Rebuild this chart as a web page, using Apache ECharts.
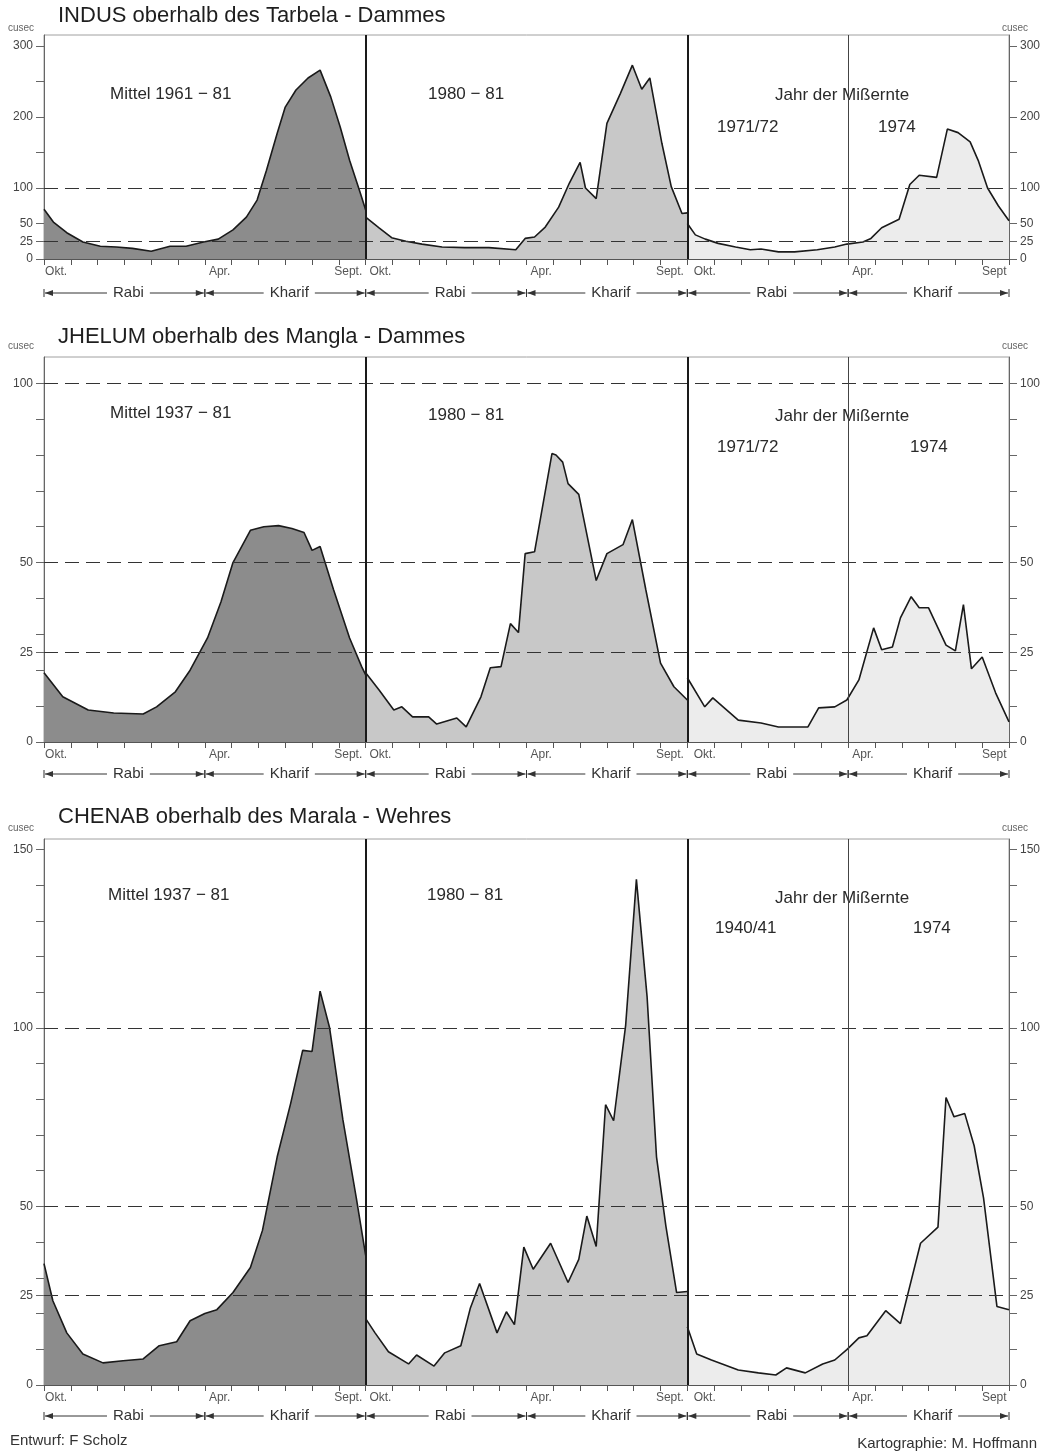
<!DOCTYPE html>
<html><head><meta charset="utf-8">
<script src="https://cdn.jsdelivr.net/npm/echarts@6/dist/echarts.min.js"></script>
<style>html,body{margin:0;padding:0;background:#fff}#c{width:1050px;height:1452px}</style>
</head><body><div id="c"></div>
<script>
// ---- data: [month since 1 Oct, cusec (x1000)] per water year ----
const indusMean = [[0,70],[0.35,52],[0.85,37],[1.45,24],[2.1,18],[2.7,17],[3.3,15],[4.0,11],[4.7,18],[5.3,18],[5.95,24],[6.5,28],[7.05,41],[7.55,59],[7.95,83],[8.3,125],[8.7,177],[9.0,214],[9.4,238],[9.85,255],[10.3,266],[10.7,228],[11.05,186],[11.4,139],[11.8,93],[12,69]];
const indus1980 = [[0,59],[0.5,44],[0.97,30],[1.5,25],[2.1,21],[2.85,17],[3.7,16],[4.6,16],[5.6,13],[5.95,29],[6.3,31],[6.7,45],[7.2,73],[7.6,107],[8.0,136],[8.2,100],[8.6,85],[9.0,191],[9.5,233],[9.95,273],[10.3,239],[10.6,255],[11.05,163],[11.4,102],[11.8,64],[12,65]];
const indusFail = [[0,50],[0.3,34],[0.67,28],[1.15,22],[1.8,17],[2.35,13],[2.75,14],[3.4,10],[4.0,10],[4.85,13],[5.5,17],[5.95,21],[6.55,24],[6.85,29],[7.25,44],[7.9,56],[8.3,105],[8.65,118],[9.3,115],[9.7,183],[10.1,178],[10.55,165],[10.85,139],[11.2,100],[11.6,75],[12,54]];

const jhelumMean = [[0,19.3],[0.7,12.6],[1.65,8.9],[2.6,8.1],[3.7,7.8],[4.2,9.8],[4.9,14],[5.45,20],[6.1,29],[6.6,39],[7.05,50],[7.7,59],[8.2,60],[8.75,60.3],[9.25,59.5],[9.7,58.4],[10.0,53.4],[10.3,54.5],[10.8,42.5],[11.4,29],[11.85,21],[12,18.7]];
const jhelum1980 = [[0,19.3],[0.5,14.5],[1.05,8.9],[1.35,9.8],[1.75,7],[2.35,7],[2.65,5],[3.4,6.7],[3.75,4.2],[4.3,12.6],[4.65,20.7],[5.05,21],[5.4,33],[5.7,30.5],[5.95,52.5],[6.3,53],[6.95,80.4],[7.1,80],[7.35,78],[7.55,72],[7.95,69],[8.6,45],[9.0,52.5],[9.6,55],[9.95,62],[10.45,42.5],[11.0,22],[11.5,15.4],[12,11.7]];
const jhelumFail = [[0,17.9],[0.65,9.8],[0.95,12.3],[1.9,6.1],[2.75,5.3],[3.4,4.2],[4.5,4.2],[4.9,9.5],[5.5,9.8],[5.95,11.7],[6.4,17.3],[6.95,31.8],[7.25,25.7],[7.65,26.5],[7.95,34.6],[8.35,40.5],[8.65,37.4],[9.0,37.4],[9.65,27],[10.0,25.4],[10.3,38.3],[10.6,20.4],[11.0,23.7],[11.5,13.7],[12,5.6]];

const chenabMean = [[0,34],[0.33,23.6],[0.85,14.6],[1.45,8.7],[2.2,6.2],[2.95,6.8],[3.7,7.3],[4.3,11],[4.95,12.1],[5.45,18],[6.0,20],[6.45,21.1],[7.05,25.9],[7.7,32.9],[8.15,43.3],[8.7,63.9],[9.2,78.8],[9.65,93.7],[10.0,93.4],[10.3,110.3],[10.65,100.2],[11.15,74.3],[11.65,52.4],[12,36.3]];
const chenab1980 = [[0,18.6],[0.35,14.6],[0.85,9.3],[1.6,5.9],[1.9,8.4],[2.55,5.3],[2.95,9],[3.55,11],[3.9,21.4],[4.25,28.4],[4.9,14.6],[5.25,20.5],[5.55,16.9],[5.9,38.6],[6.25,32.4],[6.9,39.7],[7.55,28.7],[7.95,35.2],[8.25,47.3],[8.6,38.8],[8.95,78.5],[9.25,74],[9.7,100.8],[10.1,141.6],[10.5,108.6],[10.85,63.9],[11.2,44.5],[11.6,25.9],[12,26.2]];
const chenabFail = [[0,16.3],[0.35,8.7],[0.9,7],[1.9,4.2],[2.65,3.4],[3.3,2.8],[3.7,4.8],[4.4,3.4],[5.05,5.9],[5.5,7],[5.95,9.9],[6.4,13.2],[6.7,13.8],[7.4,20.8],[7.95,17.2],[8.7,39.7],[9.35,44.2],[9.65,80.5],[9.95,75.1],[10.35,76],[10.7,67],[11.05,52.4],[11.55,22],[12,21.1]];

// axis texts
const xLabelPos  = [0.45, 6.55, 11.35, 12.55, 18.55, 23.35, 24.65, 30.55, 35.45];
const xLabelText = ['Okt.', 'Apr.', 'Sept.', 'Okt.', 'Apr.', 'Sept.', 'Okt.', 'Apr.', 'Sept'];
const seasonSpans = [[0,6,'Rabi'],[6,12,'Kharif'],[12,18,'Rabi'],[18,24,'Kharif'],[24,30,'Rabi'],[30,36,'Kharif']];
const sectionOffsets = [0, 12, 24];
const indusTicks = [0,25,50,100,150,200,250,300];
const indusLabels = [0,25,50,100,200,300];
const jhelumTicks = [0,10,20,25,30,40,50,60,70,80,90,100];
const jhelumLabels = [0,25,50,100];
const chenabTicks = [0,10,20,25,30,40,50,60,70,80,90,100,110,120,130,140,150];
const chenabLabels = [0,25,50,100,150];

const FONT = 'Liberation Sans, Arial, Helvetica, sans-serif';
const fills = ['#8c8c8c', '#c8c8c8', '#ececec'];

const panels = [
  { title: 'INDUS oberhalb des Tarbela - Dammes', titleY: 16, cuseY: 28, top: 35, height: 224, max: 315.5,
    ticks: indusTicks, labels: indusLabels, dashed: [25, 100], series: [indusMean, indus1980, indusFail], rowOff: 34,
    notes: [['Mittel 1961 − 81', 110, 94], ['1980 − 81', 428, 94], ['Jahr der Mißernte', 775, 95], ['1971/72', 717, 127], ['1974', 878, 127]] },
  { title: 'JHELUM oberhalb des Mangla - Dammes', titleY: 337, cuseY: 346, top: 357, height: 385, max: 107.3,
    ticks: jhelumTicks, labels: jhelumLabels, dashed: [25, 50, 100], series: [jhelumMean, jhelum1980, jhelumFail], rowOff: 32,
    notes: [['Mittel 1937 − 81', 110, 413], ['1980 − 81', 428, 415], ['Jahr der Mißernte', 775, 416], ['1971/72', 717, 447], ['1974', 910, 447]] },
  { title: 'CHENAB oberhalb des Marala - Wehres', titleY: 817, cuseY: 828, top: 839, height: 546, max: 152.9,
    ticks: chenabTicks, labels: chenabLabels, dashed: [25, 50, 100], series: [chenabMean, chenab1980, chenabFail], rowOff: 31,
    notes: [['Mittel 1937 − 81', 108, 895], ['1980 − 81', 427, 895], ['Jahr der Mißernte', 775, 898], ['1940/41', 715, 928], ['1974', 913, 928]] }
];

const chart = echarts.init(document.getElementById('c'), null, { renderer: 'canvas' });

const grid = [], xAxis = [], yAxis = [], series = [];
panels.forEach((p, i) => {
  grid.push({ left: 44, right: 41, top: p.top, height: p.height, show: true, borderColor: '#a0a0a0', borderWidth: 1, backgroundColor: 'transparent' });
  xAxis.push({
    type: 'value', gridIndex: i, min: 0, max: 36, interval: 1,
    axisLine: { lineStyle: { color: '#555', width: 1 } },
    axisTick: { length: 6, lineStyle: { color: '#555' } },
    splitLine: { show: false },
    axisLabel: {
      customValues: xLabelPos,
      formatter: v => { let k = 0, d = 1e9; xLabelPos.forEach((q, j) => { if (Math.abs(q - v) < d) { d = Math.abs(q - v); k = j; } }); return xLabelText[k]; },
      fontSize: 12, color: '#555', margin: 7, fontFamily: FONT
    }
  });
  ['left', 'right'].forEach(pos => {
    yAxis.push({
      type: 'value', gridIndex: i, position: pos, min: 0, max: p.max,
      axisLine: { show: true, lineStyle: { color: '#666' } },
      axisTick: { show: true, length: 8, customValues: p.ticks, lineStyle: { color: '#666' } },
      axisLabel: { customValues: p.labels, fontSize: 12, color: '#444', margin: 11, fontFamily: FONT },
      splitLine: { show: false }
    });
  });
  p.series.forEach((arr, s) => {
    series.push({
      type: 'line', xAxisIndex: i, yAxisIndex: 2 * i, symbol: 'none', animation: false, silent: true,
      data: arr.map(d => [d[0] + sectionOffsets[s], d[1]]),
      lineStyle: { color: '#1a1a1a', width: 1.6 },
      areaStyle: { color: fills[s], opacity: 1 }
    });
  });
  series.push({
    type: 'line', xAxisIndex: i, yAxisIndex: 2 * i, symbol: 'none', animation: false, silent: true,
    data: [[0, 0]], lineStyle: { width: 0 },
    markLine: {
      symbol: ['none', 'none'], silent: true, animation: false, label: { show: false },
      data: [
        ...p.dashed.map(v => ({ yAxis: v, lineStyle: { type: [14, 7], color: '#333', width: 1 } })),
        { xAxis: 12, lineStyle: { type: 'solid', color: '#1a1a1a', width: 2 } },
        { xAxis: 24, lineStyle: { type: 'solid', color: '#1a1a1a', width: 2 } },
        { xAxis: 30, lineStyle: { type: 'solid', color: '#444', width: 1 } }
      ]
    }
  });
});

chart.setOption({ animation: false, backgroundColor: '#fff', grid, xAxis, yAxis, series });

// ---- texts and season rows ----
const graphic = [];
const txt = (text, x, y, size, opts = {}) => graphic.push({
  type: 'text', x, y, silent: true,
  style: Object.assign({ text, fontSize: size, fontFamily: FONT, fill: '#222', verticalAlign: 'middle' }, opts)
});
panels.forEach((p, i) => {
  txt(p.title, 58, p.titleY, 22, { fill: '#1e1e1e' });
  txt('cusec', 8, p.cuseY, 10, { fill: '#666' });
  txt('cusec', 1002, p.cuseY, 10, { fill: '#666' });
  p.notes.forEach(n => txt(n[0], n[1], n[2], 17, { fill: '#2a2a2a' }));

  const base = chart.convertToPixel({ xAxisIndex: i, yAxisIndex: 2 * i }, [0, 0]);
  const rowY = base[1] + p.rowOff;
  seasonSpans.forEach(sp => {
    const xa = chart.convertToPixel({ xAxisIndex: i, yAxisIndex: 2 * i }, [sp[0], 0])[0];
    const xb = chart.convertToPixel({ xAxisIndex: i, yAxisIndex: 2 * i }, [sp[1], 0])[0];
    const st = { stroke: '#333', lineWidth: 1 };
    graphic.push({ type: 'line', silent: true, shape: { x1: xa + 1, y1: rowY, x2: xb - 1, y2: rowY }, style: st });
    graphic.push({ type: 'line', silent: true, shape: { x1: xa, y1: rowY - 4, x2: xa, y2: rowY + 4 }, style: st });
    graphic.push({ type: 'line', silent: true, shape: { x1: xb, y1: rowY - 4, x2: xb, y2: rowY + 4 }, style: st });
    graphic.push({ type: 'polygon', silent: true, shape: { points: [[xa + 1, rowY], [xa + 9, rowY - 3], [xa + 9, rowY + 3]] }, style: { fill: '#333' } });
    graphic.push({ type: 'polygon', silent: true, shape: { points: [[xb - 1, rowY], [xb - 9, rowY - 3], [xb - 9, rowY + 3]] }, style: { fill: '#333' } });
    graphic.push({ type: 'text', silent: true, x: (xa + xb) / 2 + 4, y: rowY, z: 10,
      style: { text: sp[2], fontSize: 15, fontFamily: FONT, fill: '#333', align: 'center', verticalAlign: 'middle', backgroundColor: '#fff', padding: [0, 6] } });
  });
});
txt('Entwurf: F Scholz', 10, 1441, 15, { fill: '#333' });
txt('Kartographie: M. Hoffmann', 1037, 1444, 15, { fill: '#333', align: 'right' });

chart.setOption({ graphic });
</script></body></html>
